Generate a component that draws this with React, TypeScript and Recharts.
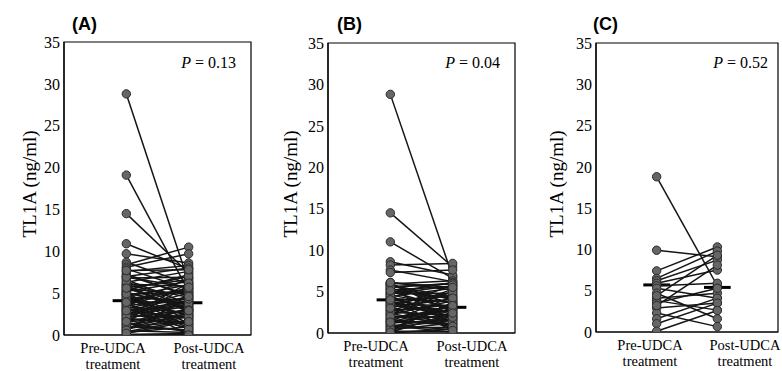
import React from 'react';
import { ComposedChart, Scatter, Line, XAxis, YAxis, ReferenceArea } from 'recharts';

// Panel (A)
const aPre = [28.8, 19.1, 14.5, 10.9, 9.7, 8.7, 8.4, 8.1, 7.9, 7.6, 7.3, 7.0, 6.8, 6.6, 6.3, 6.1, 5.9, 5.7, 5.5, 5.3, 5.1, 4.9, 4.7, 4.6, 4.4, 4.2, 4.1, 3.9, 3.7, 3.5, 3.3, 3.1, 2.9, 2.7, 2.5, 2.3, 2.1, 1.9, 1.7, 1.5, 1.3, 1.1, 0.9, 0.7, 0.5, 0.3, 0.1, 6.0, 5.0, 4.0, 3.0, 2.0, 1.0, 0.0, 5.8, 5.2, 4.8, 4.3, 3.8, 3.4, 2.8, 2.4, 1.8, 1.4, 0.8, 0.4, 6.4, 7.1, 5.4, 4.5, 3.6, 2.6, 1.2, 0.6, 3.2, 2.2, 4.9, 5.6, 6.9, 7.7, 1.6, 0.2, 2.9, 3.9];
const aPost = [6.3, 5.2, 7.4, 7.9, 8.6, 6.1, 10.5, 9.7, 5.5, 8.3, 4.6, 8.0, 6.9, 3.7, 7.6, 5.8, 2.9, 6.6, 4.9, 7.2, 3.3, 5.1, 1.9, 6.0, 4.2, 2.4, 5.6, 3.9, 1.2, 4.4, 2.7, 5.0, 3.5, 0.8, 4.0, 2.1, 3.0, 1.5, 4.7, 2.5, 0.5, 3.2, 1.7, 2.2, 0.3, 1.0, 0.1, 4.5, 3.6, 3.8, 2.0, 1.3, 0.6, 0.2, 2.8, 6.4, 1.4, 5.3, 0.9, 6.8, 4.1, 3.4, 5.9, 0.4, 2.6, 1.8, 3.1, 4.8, 7.0, 1.1, 5.5, 3.7, 2.3, 4.3, 0.7, 6.2, 2.2, 3.0, 5.7, 7.8, 2.9, 1.6, 4.6, 0.0];

// Panel (B)
const bPre = [28.8, 14.5, 11.0, 8.6, 8.2, 7.6, 7.3, 6.1, 5.9, 5.8, 5.6, 5.4, 5.2, 5.0, 4.8, 4.6, 4.4, 4.2, 4.1, 3.9, 3.7, 3.5, 3.3, 3.1, 2.9, 2.7, 2.5, 2.3, 2.1, 1.9, 1.7, 1.5, 1.3, 1.2, 1.0, 0.8, 0.6, 0.4, 0.2, 0.0, 5.7, 4.9, 3.8, 2.8, 1.6, 0.9, 5.9, 5.3, 4.7, 4.3, 3.6, 3.2, 2.6, 2.2, 1.8, 1.4, 0.7, 0.3, 6.0, 5.5, 4.5, 3.4, 2.4, 1.1, 0.5, 3.0, 4.0, 5.1, 2.0, 1.3, 6.1, 0.1];
const bPost = [6.8, 8.0, 6.6, 7.0, 8.4, 6.2, 7.6, 5.2, 6.3, 4.3, 5.9, 3.6, 5.6, 2.9, 4.8, 3.1, 5.4, 2.4, 3.8, 4.5, 1.8, 3.3, 2.6, 4.1, 1.4, 3.4, 2.1, 5.0, 1.1, 2.8, 3.2, 0.9, 2.3, 1.6, 0.4, 1.9, 0.7, 1.2, 0.2, 0.5, 4.0, 6.1, 2.0, 3.0, 1.0, 0.1, 3.5, 1.7, 5.7, 2.2, 4.6, 0.6, 5.3, 3.9, 2.7, 4.4, 1.5, 3.7, 2.5, 6.0, 1.3, 4.9, 0.8, 2.9, 3.6, 5.8, 0.3, 4.2, 1.9, 3.3, 5.5, 2.4];

// Panel (C)
const cPre = [18.8, 9.9, 7.4, 6.5, 6.2, 5.9, 5.6, 5.3, 4.7, 4.1, 3.8, 3.5, 2.9, 2.3, 1.6, 1.0, 0.1, 3.2, 4.4];
const cPost = [5.6, 9.1, 10.3, 9.8, 8.7, 7.5, 5.9, 4.1, 1.6, 4.7, 2.65, 5.3, 3.5, 0.65, 4.1, 3.5, 2.6, 8.1, 9.3];

const medianPre = [4.1, 4.0, 5.7];
const medianPost = [3.85, 3.1, 5.4];
const panelTitles = ['(A)', '(B)', '(C)'];
const pValues = ['0.13', '0.04', '0.52'];
const groupLabels = ['Pre-UDCA', 'Post-UDCA'];
const groupSub = ['treatment', 'treatment'];
const yTicks = [0, 5, 10, 15, 20, 25, 30, 35];
const yLabel = 'TL1A (ng/ml)';

const SERIF = '"Liberation Serif", "Times New Roman", serif';
const SANS = '"Liberation Sans", Arial, sans-serif';

const layouts = [
  { left: 64, top: 42, right: 251, bottom: 335, labelPos: [0.786, 2.326] },
  { left: 328, top: 43, right: 515, bottom: 333, labelPos: [0.77, 2.31] },
  { left: 596, top: 43, right: 778, bottom: 332, labelPos: [0.89, 2.456] },
];

const XTick = (props: any) => {
  const { x, y, index } = props;
  return (
    <g>
      <text x={x} y={y + 18} textAnchor="middle" fontFamily={SERIF} fontSize={14.5} fill="#000">
        {groupLabels[index]}
      </text>
      <text x={x} y={y + 34} textAnchor="middle" fontFamily={SERIF} fontSize={14.5} fill="#000">
        {groupSub[index]}
      </text>
    </g>
  );
};

const Dot = (props: any) => {
  const { cx, cy } = props;
  if (cx == null || cy == null) return <g />;
  return <circle cx={cx} cy={cy} r={4.2} fill="#666" stroke="#2a2a2a" strokeWidth={1} />;
};

const Empty = () => <g />;

function Panel({ pre, post, mPre, mPost, lay }: any) {
  const pw = lay.right - lay.left;
  const chartLeft = lay.left - 64;
  const width = pw + 64 + 3;
  const pairs = pre.map((v: number, i: number) => [
    { x: 1, y: v },
    { x: 2, y: post[i] },
  ]);
  const points = pre.map((v: number) => ({ x: 1, y: v })).concat(post.map((v: number) => ({ x: 2, y: v })));
  return (
    <div style={{ position: 'absolute', left: chartLeft, top: 0 }}>
      <ComposedChart width={width} height={371} margin={{ top: lay.top, right: 3, bottom: 0, left: 24 }}>
        <XAxis
          type="number"
          dataKey="x"
          domain={[0, 3]}
          ticks={lay.labelPos}
          interval={0}
          tick={<XTick />}
          tickLine={false}
          tickSize={0}
          tickMargin={0}
          height={371 - lay.bottom}
          axisLine={{ stroke: '#000', strokeWidth: 1.2 }}
          allowDataOverflow
        />
        <YAxis
          type="number"
          dataKey="y"
          domain={[0, 35]}
          ticks={yTicks}
          interval={0}
          width={40}
          tickLine={false}
          tickSize={3}
          tickMargin={1}
          axisLine={{ stroke: '#000', strokeWidth: 1.2 }}
          tick={{ fontFamily: SERIF, fontSize: 16, fill: '#000' }}
          allowDataOverflow
        />
        <ReferenceArea x1={0} x2={3} y1={0} y2={35} fill="none" stroke="#000" strokeWidth={1.2} ifOverflow="visible" />
        {pairs.map((d: any, i: number) => (
          <Scatter
            key={'p' + i}
            data={d}
            line={{ stroke: '#151515', strokeWidth: 1.5 }}
            shape={Empty}
            isAnimationActive={false}
          />
        ))}
        <Scatter data={points} shape={Dot} isAnimationActive={false} />
        <Line
          data={[{ x: 0.78, y: mPre }, { x: 1.22, y: mPre }]}
          dataKey="y"
          stroke="#000"
          strokeWidth={3}
          dot={false}
          isAnimationActive={false}
        />
        <Line
          data={[{ x: 1.78, y: mPost }, { x: 2.22, y: mPost }]}
          dataKey="y"
          stroke="#000"
          strokeWidth={3}
          dot={false}
          isAnimationActive={false}
        />
      </ComposedChart>
    </div>
  );
}

const titleX = [72, 337, 593];
const pRight = [236, 500, 768];
const yLabelX = [29, 290, 556];

export default function App() {
  const data = [
    [aPre, aPost],
    [bPre, bPost],
    [cPre, cPost],
  ];
  return (
    <div style={{ position: 'absolute', left: 0, top: 0, width: 782, height: 371, background: '#fff', overflow: 'hidden' }}>
      {data.map((d, i) => (
        <Panel key={i} pre={d[0]} post={d[1]} mPre={medianPre[i]} mPost={medianPost[i]} lay={layouts[i]} />
      ))}
      <svg width={782} height={371} style={{ position: 'absolute', left: 0, top: 0, pointerEvents: 'none' }}>
        {panelTitles.map((t, i) => (
          <text key={'t' + i} x={titleX[i]} y={30} fontFamily={SANS} fontWeight="bold" fontSize={18} fill="#000">
            {t}
          </text>
        ))}
        {pValues.map((p, i) => (
          <text key={'pv' + i} x={pRight[i]} y={68} textAnchor="end" fontFamily={SERIF} fontSize={16} fill="#000">
            <tspan fontStyle="italic">P</tspan>
            <tspan> = {p}</tspan>
          </text>
        ))}
        {yLabelX.map((x, i) => (
          <text
            key={'y' + i}
            x={x}
            y={184}
            transform={`rotate(-90 ${x} 184)`}
            textAnchor="middle"
            dominantBaseline="central"
            fontFamily={SERIF}
            fontSize={19}
            fill="#000"
          >
            {yLabel}
          </text>
        ))}
      </svg>
    </div>
  );
}
